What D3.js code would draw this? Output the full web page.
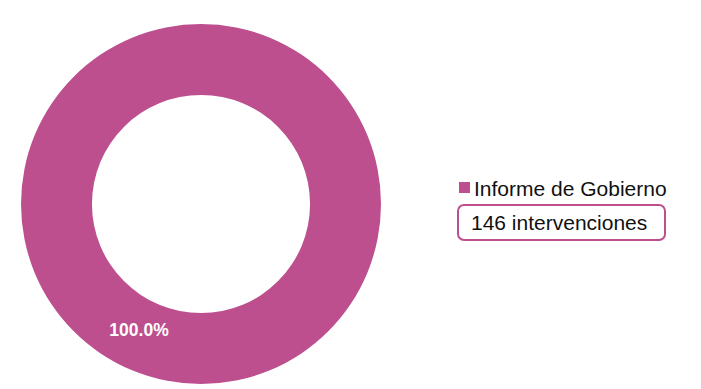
<!DOCTYPE html>
<html>
<head>
<meta charset="utf-8">
<script src="https://cdn.jsdelivr.net/npm/d3@7"></script>
<style>
  body { margin: 0; background: #fff; }
  svg { display: block; font-family: "Liberation Sans", Arial, sans-serif; }
</style>
</head>
<body>
<svg id="canvas" width="701" height="389"></svg>
<script>
const categories = ['Informe de Gobierno']
const values = [146]
const unitLabel = 'intervenciones'
const colors = ['#bd4f8f']

const svg = d3.select('#canvas')
const cx = 201, cy = 204
const outerR = 180, innerR = 109

const pie = d3.pie().sort(null)
const arcs = pie(values)
const arc = d3.arc().innerRadius(innerR).outerRadius(outerR)
const total = d3.sum(values)

const g = svg.append('g').attr('transform', `translate(${cx},${cy})`)

g.selectAll('path')
    .data(arcs)
    .enter()
    .append('path')
    .attr('d', arc)
    .attr('fill', (d, i) => colors[i])

// excel drops the single-slice label a bit left of bottom
const labelAngle = Math.PI * 1.146
const labelR = 140
g.selectAll('text.pct')
    .data(arcs)
    .enter()
    .append('text')
    .attr('class', 'pct')
    .attr('x', d => Math.sin(labelAngle) * labelR)
    .attr('y', d => -Math.cos(labelAngle) * labelR)
    .attr('text-anchor', 'middle')
    .attr('dy', '0.35em')
    .attr('fill', '#fff')
    .attr('font-weight', 'bold')
    .attr('font-size', 17.5)
    .text(d => d3.format('.1%')((d.endAngle - d.startAngle) / (2 * Math.PI)))

// legend
const lg = svg.append('g').attr('transform', 'translate(459,182)')
categories.forEach((c, i) => {
    lg.append('rect')
        .attr('x', 0).attr('y', 0)
        .attr('width', 11).attr('height', 11)
        .attr('fill', colors[i])
    lg.append('text')
        .attr('x', 15).attr('y', 14)
        .attr('font-size', 21)
        .attr('fill', '#111')
        .text(c)
})

svg.append('rect')
    .attr('x', 458).attr('y', 205)
    .attr('width', 207).attr('height', 35)
    .attr('rx', 6)
    .attr('fill', '#fff')
    .attr('stroke', colors[0])
    .attr('stroke-width', 2)

svg.append('text')
    .attr('x', 471).attr('y', 230)
    .attr('font-size', 21)
    .attr('fill', '#111')
    .text(`${total} ${unitLabel}`)
</script>
</body>
</html>
